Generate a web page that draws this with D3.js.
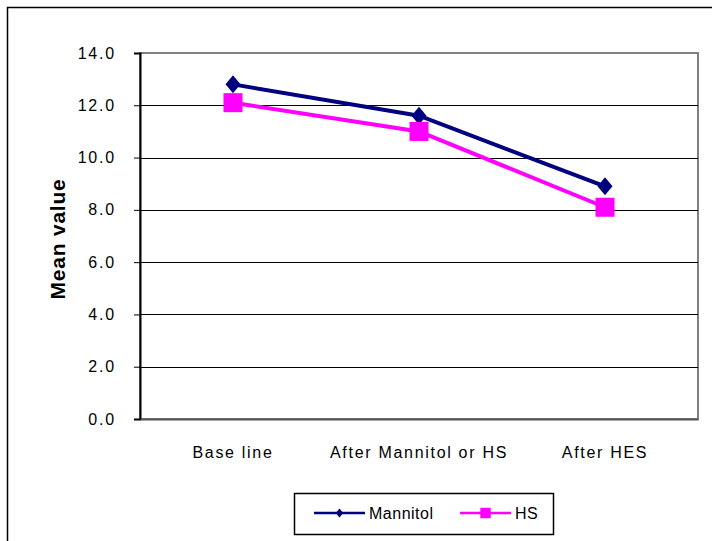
<!DOCTYPE html>
<html>
<head>
<meta charset="utf-8">
<script src="https://cdn.jsdelivr.net/npm/d3@7"></script>
<style>
  html, body { margin: 0; padding: 0; background: #fff; }
  svg { display: block; font-family: "Liberation Sans", Arial, sans-serif; }
</style>
</head>
<body>
<svg id="chart" width="712" height="541"></svg>
<script>
// Categories and series values
const categories = ["Base line", "After Mannitol or HS", "After HES"];
const mannitol = [12.8, 11.6, 8.9];
const hs = [12.1, 11.0, 8.1];
const yTicks = [0, 2, 4, 6, 8, 10, 12, 14];
const seriesNames = ["Mannitol", "HS"];

const FONT = "'Liberation Sans', Arial, sans-serif";
const svg = d3.select("#chart");

// Outer chart frame
svg.append("rect")
  .attr("x", 7.5).attr("y", 7.5)
  .attr("width", 712).attr("height", 540)
  .attr("fill", "#fff").attr("stroke", "#000").attr("stroke-width", 1.5);

const plot = { left: 140, right: 698, top: 53, bottom: 419 };

const x = d3.scaleBand().domain(categories).range([plot.left, plot.right]);
const y = d3.scaleLinear().domain([0, 14]).range([plot.bottom, plot.top]);

// Plot area
svg.append("rect")
  .attr("x", plot.left).attr("y", plot.top)
  .attr("width", plot.right - plot.left).attr("height", plot.bottom - plot.top)
  .attr("fill", "#fff").attr("stroke", "#808080").attr("stroke-width", 2);

// Horizontal grid lines
svg.append("g")
  .selectAll("line")
  .data(yTicks.filter(d => d > 0 && d < 14))
  .join("line")
  .attr("x1", plot.left).attr("x2", plot.right)
  .attr("y1", d => Math.round(y(d)) + 0.5).attr("y2", d => Math.round(y(d)) + 0.5)
  .attr("stroke", "#000").attr("stroke-width", 1);

// Y axis
const yAxis = svg.append("g")
  .attr("transform", `translate(${plot.left},0)`)
  .call(d3.axisLeft(y).tickValues(yTicks).tickFormat(d3.format(".1f")).tickSize(6).tickPadding(18));
yAxis.select(".domain").attr("stroke", "#000").attr("stroke-width", 2);
yAxis.selectAll(".tick line").attr("stroke", "#000");
yAxis.selectAll(".tick text")
  .attr("font-size", 16).attr("fill", "#000")
  .attr("letter-spacing", "1.8px")
  .attr("font-family", FONT);

// X axis labels
const xAxis = svg.append("g")
  .attr("transform", `translate(0,${plot.bottom})`)
  .call(d3.axisBottom(x).tickSize(0).tickPadding(28));
xAxis.select(".domain").attr("stroke", "#555").attr("stroke-width", 2);
xAxis.selectAll(".tick text")
  .attr("font-size", 16).attr("fill", "#000")
  .attr("letter-spacing", "1.7px")
  .attr("font-family", FONT);

// Y axis title
svg.append("text")
  .attr("transform", `translate(65,${(plot.top + plot.bottom) / 2 + 3}) rotate(-90)`)
  .attr("text-anchor", "middle")
  .attr("font-size", 21).attr("font-weight", "bold")
  .attr("letter-spacing", "0.8px")
  .text("Mean value");

const cx = d => x(d) + x.bandwidth() / 2;
const line = d3.line().x(d => cx(d.c)).y(d => y(d.v));

const series = [
  { name: seriesNames[0], values: mannitol, color: "#000080", marker: "diamond" },
  { name: seriesNames[1], values: hs, color: "#FF00FF", marker: "square" }
];

function drawMarker(g, type, px, py, color, scale) {
  if (type === "diamond") {
    const h = 9 * scale, w = 7.5 * scale;
    g.append("path")
      .attr("d", `M${px},${py - h}L${px + w},${py}L${px},${py + h}L${px - w},${py}Z`)
      .attr("fill", color);
  } else {
    const s = 9.5 * scale;
    g.append("rect")
      .attr("x", px - s).attr("y", py - s)
      .attr("width", 2 * s).attr("height", 2 * s)
      .attr("fill", color);
  }
}

// Lines and markers
series.forEach(s => {
  const data = categories.map((c, i) => ({ c, v: s.values[i] }));
  svg.append("path")
    .datum(data)
    .attr("d", line)
    .attr("fill", "none")
    .attr("stroke", s.color)
    .attr("stroke-width", 4);
  const g = svg.append("g");
  data.forEach(d => drawMarker(g, s.marker, cx(d.c), y(d.v), s.color, 1));
});

// Legend
const legend = svg.append("g");
legend.append("rect")
  .attr("x", 294.5).attr("y", 493.5).attr("width", 259).attr("height", 41)
  .attr("fill", "#fff").attr("stroke", "#000").attr("stroke-width", 1.5);
const legendItems = [
  { s: series[0], x0: 314, x1: 365, tx: 369 },
  { s: series[1], x0: 460, x1: 511, tx: 515 }
];
legendItems.forEach(it => {
  const ly = 513;
  legend.append("line")
    .attr("x1", it.x0).attr("x2", it.x1).attr("y1", ly).attr("y2", ly)
    .attr("stroke", it.s.color).attr("stroke-width", 2.5);
  drawMarker(legend, it.s.marker, (it.x0 + it.x1) / 2, ly, it.s.color, it.s.marker === "diamond" ? 0.5 : 0.55);
  legend.append("text")
    .attr("x", it.tx).attr("y", ly).attr("dy", "0.35em")
    .attr("font-size", 16)
    .attr("letter-spacing", "0.5px")
    .text(it.s.name);
});
</script>
</body>
</html>
